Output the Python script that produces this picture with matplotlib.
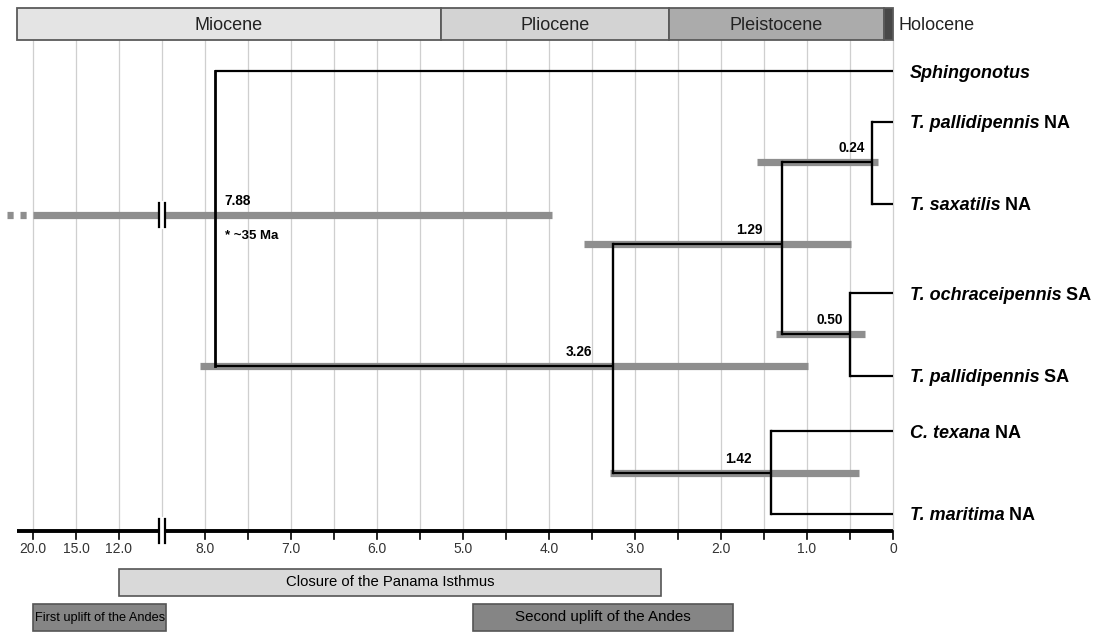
import numpy as np
import matplotlib
matplotlib.use('Agg')
import matplotlib.pyplot as plt
from matplotlib.patches import Rectangle

plt.rcParams['font.family'] = ['Liberation Sans', 'DejaVu Sans']

# --- data -------------------------------------------------------------
tip_italic = ['Sphingonotus', 'T. pallidipennis', 'T. saxatilis', 'T. ochraceipennis',
              'T. pallidipennis', 'C. texana', 'T. maritima']
tip_region = ['', 'NA', 'NA', 'SA', 'SA', 'NA', 'NA']

node_age = [7.88, 3.26, 1.29, 0.24, 0.50, 1.42]
hpd_young = [3.97, 0.99, 0.49, 0.17, 0.33, 0.40]
hpd_old = [35.0, 8.06, 3.59, 1.58, 1.36, 3.29]
# children: ('t', i) tip, ('n', i) node
node_children = [[('t', 0), ('n', 1)],
                 [('n', 2), ('n', 5)],
                 [('n', 3), ('n', 4)],
                 [('t', 1), ('t', 2)],
                 [('t', 3), ('t', 4)],
                 [('t', 5), ('t', 6)]]

epoch_names = ['Miocene', 'Pliocene', 'Pleistocene', 'Holocene']
epoch_bounds = [10.19, 5.26, 2.60, 0.11, 0.0]
epoch_colors = ['#e4e4e4', '#d3d3d3', '#ababab', '#474747']

event_names = ['Closure of the Panama Isthmus', 'First uplift of the Andes',
               'Second uplift of the Andes']
event_old = [12.0, 20.0, 4.88]
event_young = [2.70, 8.45, 1.86]
event_colors = ['#d9d9d9', '#858585', '#858585']

tick_ages = [0, 1, 2, 3, 4, 5, 6, 7, 8, 12, 15, 20]
tick_labels = ['0', '1.0', '2.0', '3.0', '4.0', '5.0', '6.0', '7.0', '8.0',
               '12.0', '15.0', '20.0']

# --- layout (pixel rows) ---------------------------------------------
tip_y = [71, 122, 204, 293, 376, 431, 514]
node_y = [215, 366, 244, 162, 334, 473]
label_dx = [9, -20, -19, -7, -7, -19]   # px offset of age label from node
axis_y = 531
grid_top = 40
x_left = 10.19
BREAK = 8.5


def to_u(age):
    # broken time axis: linear up to 8.5 Ma, compressed beyond
    if age <= 8.5:
        return age
    if age <= 12:
        return 8.5 + (age - 8.5) / 7.0
    if age <= 15:
        return 9.0 + (age - 12) / 6.0
    if age <= 20:
        return 9.5 + (age - 15) / 10.0
    return 10.0 + (age - 20) / 47.0


fig = plt.figure(figsize=(11.07, 6.33), dpi=100)
ax = fig.add_axes([0, 0, 1, 1])
PX = 86.0
ax.set_xlim(893 / PX, (893 - 1107) / PX)
ax.set_ylim(633, 0)
ax.axis('off')

# grid
for u in np.arange(0, 10.01, 0.5):
    ax.plot([u, u], [grid_top, axis_y], color='#cfcfcf', lw=0.9, zorder=1)

# epoch bar
for i, name in enumerate(epoch_names):
    a, b = epoch_bounds[i], epoch_bounds[i + 1]
    ax.add_patch(Rectangle((b, 8), a - b, 32, facecolor=epoch_colors[i],
                           edgecolor='#5a5a5a', lw=1.3, zorder=2))
    if name != 'Holocene':
        ax.text((a + b) / 2, 25, name, ha='center', va='center', fontsize=13,
                color='#222222', zorder=3)
ax.text(-0.06, 25, 'Holocene', ha='left', va='center', fontsize=13, color='#222222')

# HPD bars
for i, age in enumerate(node_age):
    u0, u1 = to_u(hpd_young[i]), to_u(min(hpd_old[i], 20))
    ax.plot([u0, u1], [node_y[i], node_y[i]], color='#8e8e8e', lw=5.2,
            solid_capstyle='butt', zorder=3)
    if hpd_old[i] > 20:
        ax.plot([to_u(20), to_u(hpd_old[i])], [node_y[i], node_y[i]], color='#8e8e8e',
                lw=5.2, ls=(0.85, (0.85, 0.95)), dash_capstyle='butt', zorder=3)

# tree
for i, age in enumerate(node_age):
    ys = []
    for kind, j in node_children[i]:
        cy, ca = (tip_y[j], 0.0) if kind == 't' else (node_y[j], node_age[j])
        ys.append(cy)
        ax.plot([age, ca], [cy, cy], color='black', lw=1.6, zorder=4,
                solid_capstyle='butt')
    ax.plot([age, age], [min(ys), max(ys)], color='black', lw=1.7 if i else 2.0,
            zorder=4, solid_capstyle='projecting')

# node age labels
for i, age in enumerate(node_age):
    ax.annotate('%.2f' % age, xy=(age, node_y[i]), xytext=(label_dx[i] * 0.72, 5),
                textcoords='offset points', ha='left' if label_dx[i] > 0 else 'right',
                va='bottom', fontsize=9.8, fontweight='bold', zorder=5)
ax.annotate('* ~35 Ma', xy=(node_age[0], node_y[0]), xytext=(7, -11),
            textcoords='offset points', ha='left', va='top', fontsize=9.5,
            fontweight='bold', zorder=5)

# tip labels
fig.canvas.draw()
renderer = fig.canvas.get_renderer()
for i, name in enumerate(tip_italic):
    t = ax.annotate(name, xy=(0, tip_y[i]), xytext=(12, 0), textcoords='offset points',
                    ha='left', va='center_baseline', fontsize=13, fontweight='bold',
                    style='italic')
    if tip_region[i]:
        bb = t.get_window_extent(renderer)
        yd = ax.transData.transform((0, tip_y[i]))[1]
        ax.annotate(' ' + tip_region[i], xy=(bb.x1, yd), xycoords='figure pixels',
                    ha='left', va='center_baseline', fontsize=13, fontweight='bold')

# time axis
ax.plot([x_left, 0], [axis_y, axis_y], color='black', lw=2.8, zorder=4,
        solid_capstyle='butt')
for u in np.arange(0, 10.01, 0.5):
    if abs(u - BREAK) < 1e-6:
        continue
    ax.plot([u, u], [axis_y, axis_y + 8], color='black', lw=1.2, zorder=4)
for age, lab in zip(tick_ages, tick_labels):
    ax.text(to_u(age), axis_y + 11, lab, ha='center', va='top', fontsize=10,
            color='#333333')

# axis breaks
for yc in (axis_y, node_y[0]):
    ax.plot([BREAK, BREAK], [yc - 12, yc + 12], color='white', lw=3.0, zorder=6)
    for d in (-0.035, 0.035):
        ax.plot([BREAK + d, BREAK + d], [yc - 12, yc + 12], color='black', lw=1.6,
                zorder=6)

# events
event_rows = [569, 604, 604]
event_sizes = [10.7, 9.2, 10.9]
for i, name in enumerate(event_names):
    u0, u1 = to_u(event_young[i]), to_u(event_old[i])
    ax.add_patch(Rectangle((u0, event_rows[i]), u1 - u0, 27, facecolor=event_colors[i],
                           edgecolor='#555555', lw=1.2, zorder=2))
    ax.text((u0 + u1) / 2, event_rows[i] + 13.5, name, ha='center', va='center',
            fontsize=event_sizes[i], zorder=3)

fig.savefig('out.png', dpi=100)
